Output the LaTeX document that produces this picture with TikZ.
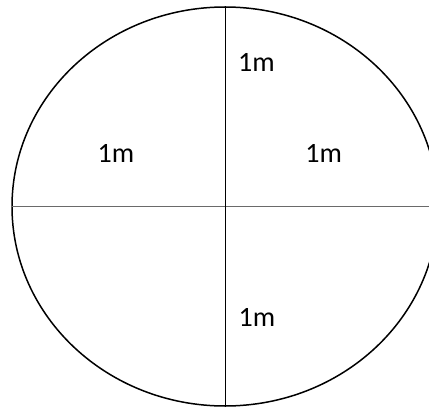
\documentclass[tikz,border=0pt]{standalone}
\usepackage{fontspec}
\setmainfont{Carlito}
\usetikzlibrary{positioning,shapes.geometric}
\definecolor{Ink}{HTML}{000000}
\definecolor{Rule}{HTML}{6A6A6A}
\tikzset{
  disc/.style={
    ellipse, draw=Ink, line width=1.5pt, inner sep=0pt,
    minimum width=426pt, minimum height=399pt
  },
  radius/.style={draw=Ink, line width=1pt},
  diameter/.style={draw=Rule, line width=1.4pt},
  size/.style={inner sep=0pt, font=\fontsize{28}{31}\selectfont}
}
\begin{document}
\begin{tikzpicture}[x=1pt,y=1pt]
    \useasboundingbox (0,0) rectangle (429,408);
    \fill[white] (0,0) rectangle (429,408);
    \node[disc] (plot) at (225,201.5) {};
    \draw[diameter] (plot.west)--(plot.east);
    \draw[radius] (plot.north)--(plot.south);
    \node[size] (top) at (256.5,346) {1m};
    \node[size] (left) at (116,254.3) {1m};
    \node[size] (right) at (323.7,254.3) {1m};
    \node[size] (bottom) at (257,90.2) {1m};
\end{tikzpicture}
\end{document}
